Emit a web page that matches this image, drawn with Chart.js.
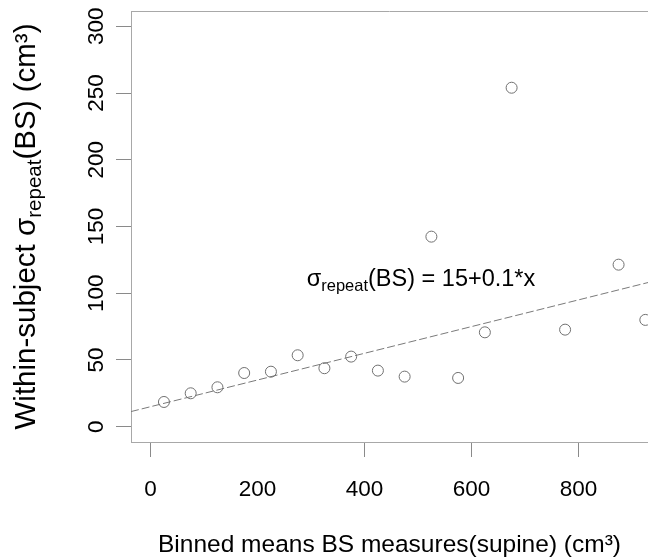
<!DOCTYPE html>
<html>
<head>
<meta charset="utf-8">
<script src="https://cdn.jsdelivr.net/npm/chart.js@4/dist/chart.umd.min.js"></script>
<style>
  html, body { margin: 0; padding: 0; background: #fff; }
  #wrap { width: 648px; height: 560px; }
</style>
</head>
<body>
<div id="wrap"><canvas id="c" width="648" height="560"></canvas></div>
<script>
// ---- data ----
const binMeans = [25, 75, 125, 175, 225, 275, 325, 375, 425, 475, 525, 575, 625, 675, 775, 875, 925];
const sigmaRepeat = [18.5, 25, 29.5, 40.2, 41.2, 53.5, 43.8, 52.5, 42, 37.5, 142.4, 36.5, 70.7, 254, 72.7, 121.4, 80];
const fitX = [-36.6, 930];
const fitY = [11.3, 108];
const xTicks = [0, 200, 400, 600, 800];
const yTicks = [0, 50, 100, 150, 200, 250, 300];
const xTitle = 'Binned means BS measures(supine) (cm\u00b3)';
const yTitleParts = ['Within-subject \u03c3', 'repeat', '(BS) (cm\u00b3)'];
const annotParts = ['\u03c3', 'repeat', '(BS) = 15+0.1*x'];

const FONT = '"Liberation Sans", Arial, Helvetica, sans-serif';

function drawPieces(ctx, parts, size, subSize, subShift) {
  const widths = parts.map((p, i) => {
    ctx.font = (i === 1 ? subSize : size) + 'px ' + FONT;
    return ctx.measureText(p).width;
  });
  const total = widths.reduce((a, b) => a + b, 0);
  let x = -total / 2;
  parts.forEach((p, i) => {
    ctx.font = (i === 1 ? subSize : size) + 'px ' + FONT;
    ctx.fillText(p, x, i === 1 ? subShift : 0);
    x += widths[i];
  });
}

const extras = {
  id: 'extras',
  beforeDatasetsDraw(chart) {
    const { ctx, chartArea } = chart;
    ctx.save();
    ctx.strokeStyle = '#a8a8a8';
    ctx.lineWidth = 1;
    ctx.beginPath();
    ctx.moveTo(chartArea.left, chartArea.top + 0.5);
    ctx.lineTo(chartArea.right, chartArea.top + 0.5);
    ctx.stroke();
    ctx.restore();
  },
  afterDraw(chart) {
    const { ctx, chartArea } = chart;
    // y title (rotated, with subscript)
    ctx.save();
    ctx.fillStyle = '#000';
    ctx.textBaseline = 'alphabetic';
    ctx.textAlign = 'left';
    ctx.translate(35, (chartArea.top + chartArea.bottom) / 2);
    ctx.rotate(-Math.PI / 2);
    drawPieces(ctx, yTitleParts, 29.5, 20.6, 6);
    ctx.restore();
    // regression annotation
    ctx.save();
    ctx.fillStyle = '#000';
    ctx.textBaseline = 'alphabetic';
    ctx.textAlign = 'left';
    ctx.translate(421, 286);
    drawPieces(ctx, annotParts, 23.5, 16.5, 4.5);
    ctx.restore();
  }
};

new Chart(document.getElementById('c'), {
  type: 'scatter',
  data: {
    datasets: [
      {
        label: 'bins',
        data: binMeans.map((x, i) => ({ x: x, y: sigmaRepeat[i] })),
        pointRadius: 5.5,
        pointHoverRadius: 5.5,
        pointBorderColor: '#707070',
        pointBackgroundColor: 'rgba(0,0,0,0)',
        pointBorderWidth: 1,
        showLine: false
      },
      {
        type: 'line',
        label: 'fit',
        data: fitX.map((x, i) => ({ x: x, y: fitY[i] })),
        borderColor: '#7a7a7a',
        borderWidth: 1,
        borderDash: [8, 3],
        pointRadius: 0,
        fill: false
      }
    ]
  },
  options: {
    responsive: false,
    animation: false,
    devicePixelRatio: 1,
    layout: { autoPadding: false, padding: { top: 11, left: 0, right: 0, bottom: 0 } },
    plugins: { legend: { display: false }, tooltip: { enabled: false } },
    scales: {
      x: {
        type: 'linear',
        min: -36.6,
        max: 930,
        afterBuildTicks: (s) => { s.ticks = xTicks.map(v => ({ value: v })); },
        afterFit: (s) => { s.height = 118; s.paddingLeft = 0; s.paddingRight = 0; },
        grid: {
          drawOnChartArea: false,
          drawTicks: true,
          tickLength: 15,
          tickColor: (c) => (c.tick && c.tick.value === 200) ? 'rgba(0,0,0,0)' : '#8a8a8a',
          color: '#8a8a8a'
        },
        border: { display: true, color: '#a8a8a8', width: 1 },
        ticks: {
          font: { family: FONT, size: 22.5 },
          color: '#000',
          padding: 19,
          maxRotation: 0,
          minRotation: 0,
          callback: (v) => String(v)
        },
        title: {
          display: true,
          text: xTitle,
          font: { family: FONT, size: 24.5 },
          color: '#000',
          padding: { top: 0, bottom: 0 }
        }
      },
      y: {
        type: 'linear',
        min: -11.5,
        max: 311.5,
        afterBuildTicks: (s) => { s.ticks = yTicks.map(v => ({ value: v })); },
        afterFit: (s) => { s.width = 131; s.paddingTop = 0; s.paddingBottom = 0; },
        grid: {
          drawOnChartArea: false,
          drawTicks: true,
          tickLength: 15,
          color: '#8a8a8a'
        },
        border: { display: true, color: '#a8a8a8', width: 1 },
        ticks: {
          font: { family: FONT, size: 22.5 },
          color: '#000',
          minRotation: 90,
          maxRotation: 90,
          crossAlign: 'center',
          padding: 0,
          callback: (v) => String(v)
        }
      }
    }
  },
  plugins: [extras]
});
</script>
</body>
</html>
